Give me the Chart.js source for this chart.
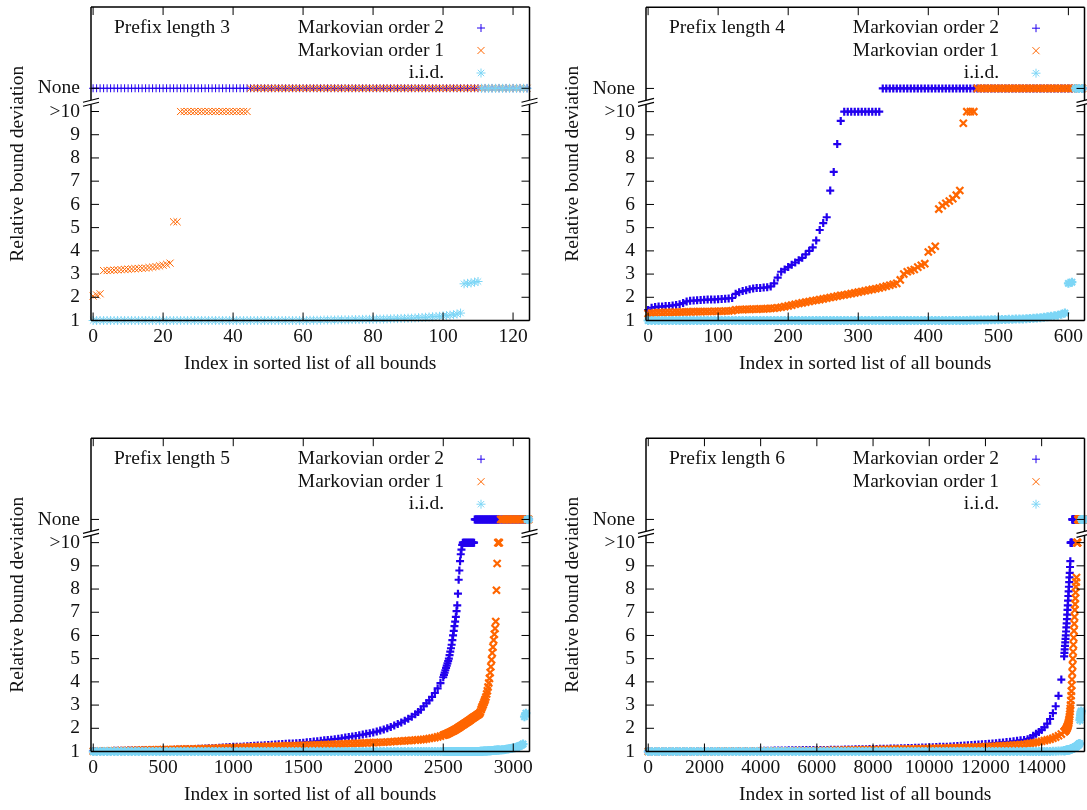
<!DOCTYPE html>
<html>
<head>
<meta charset="utf-8">
<script src="https://cdn.jsdelivr.net/npm/chart.js@4.4.1/dist/chart.umd.min.js"></script>
<style>
  html, body { margin: 0; padding: 0; background: #fff; width: 1087px; height: 810px; overflow: hidden; }
  canvas { position: absolute; }
</style>
</head>
<body>
<canvas id="p3" width="545" height="376" style="left:0;top:0"></canvas>
<canvas id="p4" width="545" height="376" style="left:555px;top:0"></canvas>
<canvas id="p5" width="545" height="376" style="left:0;top:431px"></canvas>
<canvas id="p6" width="545" height="376" style="left:555px;top:431px"></canvas>
<script>
"use strict";

/* ── shared axis / legend data ── */
const seriesNames = ["Markovian order 2", "Markovian order 1", "i.i.d."];
const yTickValues = [1, 2, 3, 4, 5, 6, 7, 8, 9, 10, 11];
const yTickLabels = ["1", "2", "3", "4", "5", "6", "7", "8", "9", ">10", "None"];

/* ── Prefix length 3 : index 0..124 ── */
const p3IndexSteps = [[0, 124, 1]];
const p3XTicks = [0, 20, 40, 60, 80, 100, 120];
const p3Markov2 = [
  11,11,11,11,11,11,11,11,11,11,11,11,11,11,11,11,11,11,11,11,11,11,11,11,11,
  11,11,11,11,11,11,11,11,11,11,11,11,11,11,11,11,11,11,11,11,11,11,11,11,11,
  11,11,11,11,11,11,11,11,11,11,11,11,11,11,11,11,11,11,11,11,11,11,11,11,11,
  11,11,11,11,11,11,11,11,11,11,11,11,11,11,11,11,11,11,11,11,11,11,11,11,11,
  11,11,11,11,11,11,11,11,11,11,11,11,11,11,11,11,11,11,11,11,11,11,11,11,11,
];
const p3Markov1 = [
  2.05,2.1,2.15,3.15,3.15,3.16,3.17,3.18,3.19,3.2,
  3.21,3.22,3.23,3.24,3.25,3.26,3.28,3.3,3.32,3.35,
  3.38,3.42,3.47,5.25,5.25,10,10,10,10,10,
  10,10,10,10,10,10,10,10,10,10,
  10,10,10,10,10,11,11,11,11,11,
  11,11,11,11,11,11,11,11,11,11,11,11,11,11,11,11,11,11,11,11,11,11,11,11,11,
  11,11,11,11,11,11,11,11,11,11,11,11,11,11,11,11,11,11,11,11,11,11,11,11,11,
  11,11,11,11,11,11,11,11,11,11,11,11,11,11,11,11,11,11,11,11,11,11,11,11,11,
];
const p3Iid = [
  1,1,1,1,1,1,1,1,1,1,
  1,1,1,1,1,1,1,1,1,1,
  1,1,1,1,1,1,1,1,1,1,
  1,1,1,1,1,1,1,1,1,1,
  1,1,1,1,1,1,1,1,1,1,
  1,1,1,1,1,1,1,1,1,1,
  1,1,1.01,1.01,1.01,1.01,1.02,1.02,1.02,1.02,
  1.03,1.03,1.03,1.03,1.04,1.04,1.04,1.05,1.05,1.05,
  1.05,1.06,1.06,1.06,1.07,1.07,1.08,1.08,1.09,1.09,
  1.1,1.1,1.11,1.12,1.13,1.14,1.15,1.16,1.17,1.18,
  1.2,1.21,1.23,1.25,1.28,1.32,2.58,2.6,2.62,2.65,
  2.68,11,11,11,11,11,11,11,11,11,
  11,11,11,11,11,
];

/* ── Prefix length 4 : index 0..620 every 5 ── */
const p4IndexSteps = [[0, 620, 5]];
const p4XTicks = [0, 100, 200, 300, 400, 500, 600];
const p4Markov2 = [
  1.45,1.55,1.58,1.6,1.6,1.62,1.63,1.65,1.67,1.7,
  1.75,1.82,1.85,1.86,1.87,1.88,1.89,1.9,1.9,1.91,
  1.92,1.93,1.94,1.95,1.97,2.15,2.22,2.27,2.3,2.35,
  2.38,2.4,2.4,2.42,2.43,2.47,2.6,2.85,3.1,3.2,
  3.3,3.4,3.5,3.6,3.7,3.85,4.0,4.15,4.45,4.9,
  5.2,5.45,6.6,7.4,8.6,9.6,10,10,10,10,
  10,10,10,10,10,10,10,11,11,11,
  11,11,11,11,11,11,11,11,11,11,
  11,11,11,11,11,11,11,11,11,11,
  11,11,11,11,11,11,11,11,11,11,
  11,11,11,11,11,11,11,11,11,11,
  11,11,11,11,11,11,11,11,11,11,
  11,11,11,11,11,
];
const p4Markov1 = [
  1.3,1.32,1.33,1.34,1.34,1.35,1.35,1.35,1.36,1.36,
  1.37,1.37,1.37,1.38,1.38,1.38,1.39,1.39,1.39,1.4,
  1.4,1.4,1.41,1.41,1.42,1.46,1.47,1.47,1.48,1.48,
  1.49,1.49,1.5,1.5,1.51,1.52,1.53,1.55,1.57,1.6,
  1.63,1.66,1.7,1.73,1.76,1.79,1.82,1.85,1.87,1.9,
  1.93,1.96,1.99,2.02,2.05,2.08,2.1,2.13,2.16,2.19,
  2.22,2.25,2.28,2.31,2.34,2.37,2.4,2.44,2.48,2.52,
  2.56,2.6,2.75,3.0,3.1,3.15,3.2,3.3,3.38,3.45,
  3.95,4.05,4.2,5.8,5.95,6.05,6.15,6.25,6.4,6.6,
  9.5,10,10,10,11,11,11,11,11,11,
  11,11,11,11,11,11,11,11,11,11,
  11,11,11,11,11,11,11,11,11,11,
  11,11,11,11,11,
];
const p4Iid = [
  1,1,1,1,1,1,1,1,1,1,
  1,1,1,1,1,1,1,1,1,1,
  1,1,1,1,1,1,1,1,1,1,
  1,1,1,1,1,1,1,1,1,1,
  1,1,1,1,1,1,1,1,1,1,
  1,1,1,1,1,1,1,1,1,1,
  1,1,1,1,1,1,1,1,1,1,
  1,1,1,1,1,1,1,1,1,1,
  1,1,1,1,1,1,1,1,1,1,
  1,1,1.01,1.01,1.01,1.02,1.02,1.02,1.03,1.03,
  1.03,1.04,1.04,1.05,1.05,1.06,1.06,1.07,1.08,1.09,
  1.1,1.11,1.12,1.14,1.16,1.18,1.2,1.23,1.27,1.32,
  2.6,2.65,11,11,11,
];

/* ── Prefix length 5 : index 0..3110, finer near the steep end ── */
const p5IndexSteps = [[0, 2300, 25], [2320, 2500, 20], [2505, 2900, 5], [2910, 3110, 10]];
const p5XTicks = [0, 500, 1000, 1500, 2000, 2500, 3000];
const p5Markov2 = [
  1.02,1.02,1.02,1.02,1.02,1.02,1.03,1.03,1.03,1.03,
  1.04,1.04,1.04,1.04,1.05,1.05,1.05,1.05,1.06,1.06,
  1.06,1.07,1.07,1.08,1.08,1.09,1.09,1.1,1.1,1.11,
  1.12,1.12,1.13,1.14,1.14,1.15,1.16,1.17,1.18,1.19,
  1.2,1.21,1.21,1.22,1.23,1.24,1.25,1.26,1.26,1.27,
  1.28,1.29,1.3,1.31,1.32,1.33,1.34,1.35,1.36,1.37,
  1.38,1.4,1.41,1.43,1.44,1.46,1.48,1.5,1.51,1.53,
  1.55,1.57,1.6,1.62,1.65,1.67,1.7,1.73,1.76,1.79,
  1.82,1.86,1.9,1.95,2.0,2.06,2.12,2.18,2.25,2.33,
  2.41,2.5,2.6,
  2.7,2.8,2.95,3.08,3.2,3.35,3.52,3.72,3.95,4.2,
  4.3,4.4,4.5,4.6,4.7,4.8,4.9,5.0,5.15,5.3,
  5.45,5.6,5.8,6.0,6.2,6.4,6.6,6.8,7.05,7.3,
  7.8,8.4,8.8,9.2,9.5,9.7,9.9,10,10,10,
  10,10,10,10,10,10,10,10,10,10,
  10,10,10,10,11,11,11,11,11,11,
  11,11,11,11,11,11,11,11,11,11,
  11,11,11,11,11,11,11,11,11,11,
  11,11,11,11,11,11,11,11,11,11,
  11,11,11,11,11,11,11,11,11,11,11,11,11,11,11,11,11,11,11,11,11,
];
const p5Markov1 = [
  1.01,1.01,1.02,1.02,1.02,1.03,1.03,1.03,1.04,1.04,
  1.04,1.05,1.05,1.05,1.06,1.06,1.06,1.07,1.07,1.07,
  1.08,1.08,1.08,1.09,1.09,1.1,1.1,1.1,1.11,1.11,
  1.12,1.12,1.13,1.13,1.14,1.14,1.15,1.15,1.16,1.16,
  1.17,1.17,1.18,1.18,1.19,1.19,1.2,1.2,1.21,1.21,
  1.22,1.22,1.23,1.23,1.24,1.24,1.25,1.25,1.26,1.26,
  1.27,1.27,1.28,1.28,1.29,1.29,1.3,1.3,1.31,1.31,
  1.32,1.32,1.33,1.34,1.34,1.35,1.36,1.36,1.37,1.38,
  1.38,1.39,1.4,1.4,1.41,1.42,1.43,1.44,1.45,1.46,
  1.47,1.48,1.49,
  1.5,1.51,1.52,1.54,1.56,1.58,1.6,1.63,1.66,1.7,
  1.71,1.72,1.73,1.74,1.75,1.77,1.78,1.8,1.81,1.83,
  1.84,1.86,1.87,1.89,1.9,1.92,1.94,1.95,1.97,1.99,
  2.01,2.03,2.05,2.07,2.09,2.11,2.13,2.15,2.17,2.19,
  2.21,2.23,2.25,2.27,2.29,2.31,2.33,2.35,2.37,2.4,
  2.42,2.44,2.46,2.48,2.5,2.52,2.54,2.56,2.58,2.6,
  2.62,2.65,2.7,2.8,2.88,2.95,3.02,3.1,3.18,3.25,
  3.35,3.48,3.62,3.78,3.95,4.15,4.4,4.65,4.95,5.25,
  5.5,5.8,6.05,6.3,6.6,7.95,9.1,10,10,10,
  11,11,11,11,11,11,11,11,11,11,11,11,11,11,11,11,11,11,11,11,11,
];
const p5Iid = [
  1,1,1,1,1,1,1,1,1,1,
  1,1,1,1,1,1,1,1,1,1,
  1,1,1,1,1,1,1,1,1,1,
  1,1,1,1,1,1,1,1,1,1,
  1,1,1,1,1,1,1,1,1,1,
  1,1,1,1,1,1,1,1,1,1,
  1,1,1,1,1,1,1,1,1,1,
  1,1,1,1,1,1,1,1,1,1,
  1,1,1,1,1,1,1,1,1,1,
  1,1,1,
  1,1,1,1,1,1,1,1,1,1,
  1,1,1,1,1,1,1,1,1,1,
  1,1,1,1,1,1,1,1,1,1,
  1,1,1,1,1,1,1,1,1,1,
  1,1,1,1,1,1,1,1,1,1,
  1,1,1,1,1,1,1,1,1,1,
  1,1,1.01,1.01,1.01,1.01,1.01,1.02,1.02,1.02,
  1.02,1.02,1.02,1.03,1.03,1.03,1.03,1.03,1.04,1.04,
  1.04,1.04,1.05,1.05,1.05,1.05,1.06,1.06,1.06,1.07,
  1.07,1.08,1.08,1.09,1.1,1.11,1.12,1.13,1.14,1.15,
  1.16,1.18,1.2,1.22,1.25,1.28,1.32,2.5,2.65,11,11,
];

/* ── Prefix length 6 : index 0..15520, finer near the steep end ── */
const p6IndexSteps = [[0, 13500, 125], [13600, 14800, 100], [14810, 15520, 10]];
const p6XTicks = [0, 2000, 4000, 6000, 8000, 10000, 12000, 14000];
const p6Markov2 = [
  1,1,1,1,1,1,1,1,
  1,1,1,1,1,1,1.01,1.01,
  1.01,1.01,1.01,1.01,1.01,1.01,1.01,1.01,
  1.02,1.02,1.02,1.02,1.02,1.02,1.02,1.02,
  1.03,1.03,1.03,1.03,1.04,1.04,1.04,1.04,
  1.05,1.05,1.05,1.05,1.06,1.06,1.06,1.06,
  1.07,1.07,1.07,1.07,1.08,1.08,1.08,1.08,
  1.09,1.09,1.09,1.1,1.1,1.1,1.1,1.11,
  1.11,1.11,1.12,1.12,1.12,1.13,1.13,1.13,
  1.14,1.14,1.15,1.15,1.16,1.16,1.17,1.17,
  1.18,1.18,1.19,1.2,1.21,1.21,1.22,1.23,
  1.24,1.25,1.26,1.27,1.28,1.29,1.3,1.31,
  1.32,1.33,1.35,1.36,1.38,1.39,1.41,1.42,
  1.44,1.46,1.48,1.5,1.53,
  1.58,1.68,1.76,1.84,1.93,2.04,2.2,2.4,2.65,2.95,3.4,4.1,5.1,
  5.25,5.4,5.55,5.7,5.85,6.0,6.17,6.35,6.52,6.7,
  6.9,7.1,7.3,7.5,7.7,7.9,8.1,8.3,8.5,8.7,
  8.95,9.2,10,10,10,10,10,10,11,11,
  11,11,11,11,11,11,11,11,11,11,11,11,11,11,11,11,11,11,11,11,11,
  11,11,11,11,11,11,11,11,11,11,11,11,11,11,11,11,11,11,11,11,11,
];
const p6Markov1 = [
  1,1,1,1,1,1,1,1,
  1,1,1,1,1,1,1,1,
  1,1,1,1,1.01,1.01,1.01,1.01,
  1.01,1.01,1.01,1.01,1.01,1.01,1.01,1.01,
  1.02,1.02,1.02,1.02,1.02,1.02,1.02,1.02,
  1.02,1.02,1.03,1.03,1.03,1.03,1.03,1.03,
  1.04,1.04,1.04,1.04,1.05,1.05,1.05,1.05,
  1.06,1.06,1.06,1.06,1.07,1.07,1.07,1.07,
  1.08,1.08,1.08,1.09,1.09,1.09,1.1,1.1,
  1.1,1.11,1.11,1.11,1.12,1.12,1.12,1.13,
  1.13,1.14,1.14,1.14,1.15,1.15,1.16,1.16,
  1.16,1.17,1.17,1.18,1.18,1.19,1.19,1.2,
  1.21,1.21,1.22,1.23,1.24,1.25,1.26,1.27,
  1.28,1.29,1.3,1.31,1.33,
  1.35,1.37,1.39,1.41,1.44,1.47,1.5,1.53,1.57,1.62,1.68,1.75,1.85,
  1.86,1.87,1.88,1.9,1.91,1.93,1.95,1.97,1.99,2.02,
  2.05,2.08,2.11,2.15,2.2,2.25,2.32,2.4,2.5,2.6,
  2.72,2.85,3.0,3.2,3.4,3.6,3.85,4.1,4.4,4.7,
  5.0,5.3,5.6,5.9,6.2,6.5,6.8,7.1,7.35,7.6,
  7.85,8.1,8.3,8.5,10,10,10,10,11,11,
  11,11,11,11,11,11,11,11,11,11,11,11,11,11,11,11,11,11,11,11,11,11,
];
const p6Iid = [
  1,1,1,1,1,1,1,1,
  1,1,1,1,1,1,1,1,
  1,1,1,1,1,1,1,1,
  1,1,1,1,1,1,1,1,
  1,1,1,1,1,1,1,1,
  1,1,1,1,1,1,1,1,
  1,1,1,1,1,1,1,1,
  1,1,1,1,1,1,1,1,
  1,1,1,1,1,1,1,1,
  1,1,1,1,1,1,1,1,
  1,1,1,1,1,1,1,1,
  1,1,1,1,1,1,1,1,
  1,1,1,1,1,1,1,1,
  1,1,1,1,1,
  1,1,1,1,1,1,1,1,1.01,1.01,1.02,1.02,1.03,
  1.03,1.03,1.04,1.04,1.04,1.04,1.05,1.05,1.05,1.05,
  1.06,1.06,1.06,1.06,1.07,1.07,1.08,1.08,1.08,1.08,
  1.09,1.09,1.1,1.1,1.11,1.11,1.12,1.12,1.13,1.13,
  1.14,1.14,1.15,1.15,1.16,1.16,1.17,1.18,1.18,1.19,
  1.2,1.2,1.21,1.22,1.23,1.24,1.25,1.26,1.27,1.28,
  1.29,1.3,1.32,1.33,1.35,2.35,2.45,2.55,2.62,2.7,
  2.75,11,11,11,11,11,11,11,11,11,11,11,
];

/* ── look ── */
const FONT = { family: '"Liberation Serif", "Times New Roman", serif', size: 19.5 };
const TEXT = "#111";
const SERIES_STYLE = [
  { color: "#2200ee", pointStyle: "cross", radius: 4 },
  { color: "#ff6600", pointStyle: "crossRot", radius: 5 },
  { color: "#7dd6f6", pointStyle: "star", radius: 4.5 },
];
const TICK_LEN = 8;
const BREAK_AT = 10.4;

function buildIndex(steps) {
  const out = [];
  steps.forEach(([from, to, step]) => {
    for (let v = from; v <= to; v += step) out.push(v);
  });
  return out;
}

function toPoints(index, values) {
  if (index.length !== values.length) console.warn("length mismatch", index.length, values.length);
  return values.map((v, i) => ({ x: index[i], y: v }));
}

/* gnuplot-like frame: inward ticks, broken y axis, key in the top right */
const gnuFrame = {
  id: "gnuFrame",
  afterDatasetsDraw(chart, args, opts) {
    const { ctx, chartArea: a, scales: { x, y } } = chart;
    ctx.save();
    ctx.strokeStyle = "#000";
    ctx.lineWidth = 1;
    ctx.beginPath();
    opts.xTicks.forEach((v) => {
      const px = x.getPixelForValue(v);
      ctx.moveTo(px, a.bottom); ctx.lineTo(px, a.bottom - TICK_LEN);
      ctx.moveTo(px, a.top); ctx.lineTo(px, a.top + TICK_LEN);
    });
    yTickValues.forEach((v) => {
      const py = y.getPixelForValue(v);
      ctx.moveTo(a.left, py); ctx.lineTo(a.left + TICK_LEN, py);
      ctx.moveTo(a.right, py); ctx.lineTo(a.right - TICK_LEN, py);
    });
    ctx.stroke();

    const yb = y.getPixelForValue(BREAK_AT);
    ctx.lineWidth = 1.5;
    ctx.beginPath();
    ctx.moveTo(a.left, a.top); ctx.lineTo(a.right, a.top);
    ctx.moveTo(a.left, a.bottom); ctx.lineTo(a.right, a.bottom);
    [a.left, a.right].forEach((bx) => {
      ctx.moveTo(bx, a.top); ctx.lineTo(bx, yb - 2);
      ctx.moveTo(bx, yb + 2); ctx.lineTo(bx, a.bottom);
    });
    ctx.stroke();

    ctx.lineWidth = 1.2;
    [a.left, a.right].forEach((bx) => {
      ctx.fillStyle = "#fff";
      ctx.fillRect(bx - 2, yb - 2, 4, 4);
      ctx.beginPath();
      ctx.moveTo(bx - 8, yb + 4); ctx.lineTo(bx + 8, yb);
      ctx.moveTo(bx - 8, yb); ctx.lineTo(bx + 8, yb - 4);
      ctx.stroke();
    });
    ctx.restore();
  },
  afterDraw(chart, args, opts) {
    const { ctx, chartArea: a } = chart;
    ctx.save();
    ctx.font = `${FONT.size}px ${FONT.family}`;
    ctx.fillStyle = TEXT;
    ctx.textBaseline = "middle";
    ctx.textAlign = "left";
    ctx.fillText(opts.title, a.left + 23, a.top + 21);
    ctx.textAlign = "right";
    chart.data.datasets.forEach((ds, k) => {
      const rowY = a.top + 21 + k * 22.5;
      ctx.fillStyle = TEXT;
      ctx.fillText(ds.label, a.left + 353, rowY);
      ctx.strokeStyle = ds.pointBorderColor;
      ctx.fillStyle = ds.pointBorderColor;
      ctx.lineWidth = 1;
      Chart.helpers.drawPoint(ctx, { pointStyle: ds.pointStyle, radius: ds.pointRadius, rotation: 0, borderWidth: 1 }, a.left + 390, rowY);
    });
    ctx.restore();
  },
};

function makePanel(canvasId, cfg) {
  const index = buildIndex(cfg.steps);
  const datasets = cfg.series.map((values, k) => ({
    label: seriesNames[k],
    data: toPoints(index, values),
    pointStyle: SERIES_STYLE[k].pointStyle,
    pointRadius: SERIES_STYLE[k].radius,
    pointBorderColor: SERIES_STYLE[k].color,
    pointBackgroundColor: SERIES_STYLE[k].color,
    pointBorderWidth: cfg.markerWidth,
    showLine: false,
    clip: false,
    order: 3 - k,
  }));

  new Chart(document.getElementById(canvasId), {
    type: "scatter",
    data: { datasets },
    plugins: [gnuFrame],
    options: {
      responsive: false,
      animation: false,
      events: [],
      layout: { padding: { top: 7, right: 15.5, bottom: 0, left: 0 } },
      plugins: {
        legend: { display: false },
        tooltip: { enabled: false },
        gnuFrame: { xTicks: cfg.xTicks, title: cfg.title },
      },
      scales: {
        x: {
          type: "linear",
          min: cfg.xMin,
          max: cfg.xMax,
          afterBuildTicks: (s) => { s.ticks = cfg.xTicks.map((v) => ({ value: v })); },
          afterFit: (s) => { s.height = 55.5; s.paddingLeft = 0; s.paddingRight = 0; },
          grid: { display: false, drawTicks: false },
          border: { display: false },
          ticks: { font: FONT, color: TEXT, padding: 5, maxRotation: 0, autoSkip: false, callback: (v) => String(v) },
          title: { display: true, text: "Index in sorted list of all bounds", font: FONT, color: TEXT, padding: { top: 0, bottom: 0 } },
        },
        y: {
          type: "linear",
          min: 1,
          max: 14.5,
          afterBuildTicks: (s) => { s.ticks = yTickValues.map((v) => ({ value: v })); },
          afterFit: (s) => { s.width = 91; s.paddingTop = 0; s.paddingBottom = 0; },
          grid: { display: false, drawTicks: false },
          border: { display: false },
          ticks: {
            font: FONT, color: TEXT, padding: 11, autoSkip: false,
            callback: (v) => yTickLabels[yTickValues.indexOf(v)],
          },
          title: { display: true, text: "Relative bound deviation", font: FONT, color: TEXT, padding: { top: 6, bottom: 0 } },
        },
      },
    },
  });
}

makePanel("p3", { title: "Prefix length 3", steps: p3IndexSteps, xTicks: p3XTicks, xMin: -0.6, xMax: 124.7, markerWidth: 1, series: [p3Markov2, p3Markov1, p3Iid] });
makePanel("p4", { title: "Prefix length 4", steps: p4IndexSteps, xTicks: p4XTicks, xMin: -3, xMax: 623, markerWidth: 2.2, series: [p4Markov2, p4Markov1, p4Iid] });
makePanel("p5", { title: "Prefix length 5", steps: p5IndexSteps, xTicks: p5XTicks, xMin: -16, xMax: 3116, markerWidth: 2.2, series: [p5Markov2, p5Markov1, p5Iid] });
makePanel("p6", { title: "Prefix length 6", steps: p6IndexSteps, xTicks: p6XTicks, xMin: -80, xMax: 15525, markerWidth: 2.2, series: [p6Markov2, p6Markov1, p6Iid] });
</script>
</body>
</html>
